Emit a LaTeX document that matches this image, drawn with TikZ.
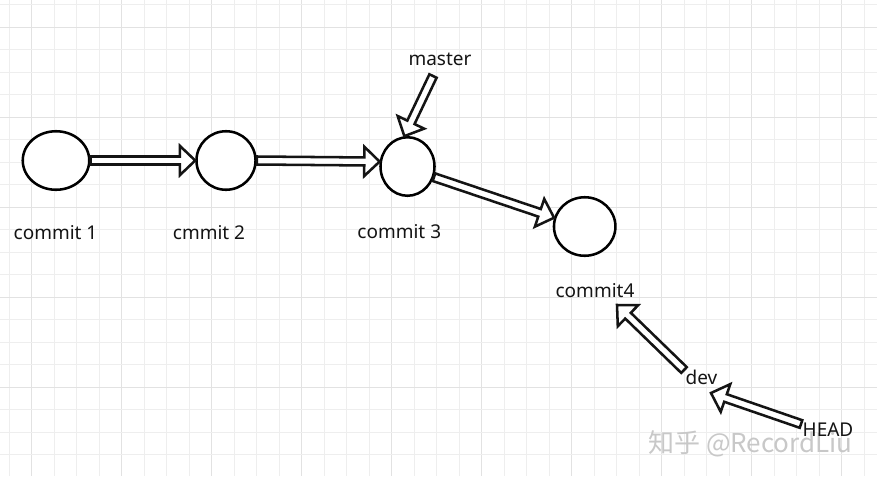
\documentclass[tikz,border=0pt]{standalone}
\usepackage{fontspec}
\setmainfont{Noto Sans}
\newfontfamily\cjkfont{Noto Sans CJK SC}
\usetikzlibrary{shapes.geometric,calc}
\definecolor{gridminor}{RGB}{238,238,238}
\definecolor{gridmajor}{RGB}{226,226,226}
\definecolor{wmark}{RGB}{200,200,200}
\tikzset{
  commitnode/.style={ellipse, draw=black, fill=white, line width=1.9pt, inner sep=0pt, minimum height=43.9pt},
  lbl/.style={anchor=base, inner sep=0pt, font=\fontsize{14.25pt}{17pt}\selectfont, text=black!92},
  barrow/.style={draw=black!92, fill=white, line width=1.9pt, line join=miter,
    to path={let \p1=($(\tikztotarget)!11.5pt!(\tikztostart)$) in
      ($(\tikztostart)!3pt!90:(\tikztotarget)$) -- ($(\p1)!3pt!-90:(\tikztostart)$)
      -- ($(\p1)!11pt!-90:(\tikztostart)$) -- (\tikztotarget)
      -- ($(\p1)!11pt!90:(\tikztostart)$) -- ($(\p1)!3pt!90:(\tikztostart)$)
      -- ($(\tikztostart)!3pt!-90:(\tikztotarget)$) -- cycle}},
  gridline/.style={draw=gridminor, line width=0.8pt},
  gridmaj/.style={draw=gridmajor, line width=1.1pt}
}
\begin{document}
\begin{tikzpicture}[x=0.75pt,y=-0.75pt]
\useasboundingbox (0,0) rectangle (877,476);
\fill[white] (0,0) rectangle (877,476);
% grid
\foreach \k in {0,...,38}{
  \pgfmathtruncatemacro{\m}{mod(\k,4)}
  \ifnum\m=1 \draw[gridmaj] ({9.2+22.5*\k},0) -- ({9.2+22.5*\k},476);
  \else \draw[gridline] ({9.2+22.5*\k},0) -- ({9.2+22.5*\k},476); \fi
}
\foreach \k in {0,...,21}{
  \pgfmathtruncatemacro{\m}{mod(\k,4)}
  \ifnum\m=1 \draw[gridmaj] (0,{4.8+22.5*\k}) -- (877,{4.8+22.5*\k});
  \else \draw[gridline] (0,{4.8+22.5*\k}) -- (877,{4.8+22.5*\k}); \fi
}
% commits
\node[commitnode, minimum width=49.9pt] (c1) at (56,160.5) {};
\node[commitnode, minimum width=44.3pt] (c2) at (226,160.5) {};
\node[commitnode, minimum width=40.5pt] (c3) at (407.5,166.5) {};
\node[commitnode, minimum width=46.1pt] (c4) at (584.7,226.5) {};
% labels
\node[lbl] (l1) at (55.5,239) {commit 1};
\node[lbl] (l2) at (209,239) {cmmit 2};
\node[lbl] (l3) at (399.3,238.5) {commit 3};
\node[lbl] (l4) at (595,297.5) {commit4};
\node[lbl] (master) at (440,65) {master};
\node[lbl] (dev) at (701.5,384) {dev};
% free arrow ends
\coordinate (mtail) at (433,76);
\coordinate (devtail) at (684,370);
\coordinate (c4tip) at (617,305);
\coordinate (headtail) at (801,424);
\coordinate (devtip) at (711,393);
% arrows
\draw[barrow] (c1.east) to (c2.west);
\draw[barrow] (c2.east) to (c3.170);
\draw[barrow] (c3.-22) to (c4.164);
\draw[barrow] (mtail) to (c3.96);
\draw[barrow] (devtail) to (c4tip);
\draw[barrow] (headtail) to (devtip);
% watermark
\node[anchor=base west, inner sep=0pt, text=wmark, font=\cjkfont\fontsize{19.5pt}{22pt}\selectfont] (wm) at (648,452) {知乎 @RecordLiu};
\node[lbl] (head) at (828,436.7) {HEAD};
\end{tikzpicture}
\end{document}
